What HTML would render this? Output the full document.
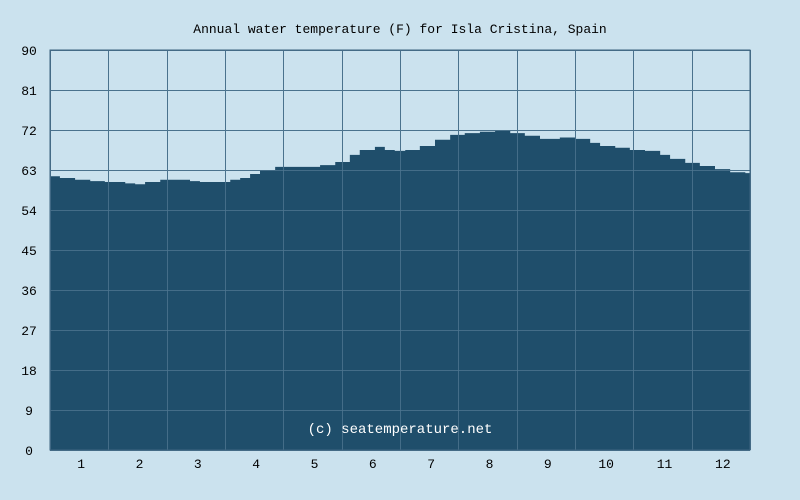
<!DOCTYPE html>
<html><head><meta charset="utf-8"><style>
body{margin:0;background:#cbe2ee;}
svg{display:block;font-family:"Liberation Mono","DejaVu Sans Mono",monospace;}
</style></head><body>
<svg id="chart" width="800" height="500">
<rect width="800" height="500" fill="#cbe2ee"/>
<text x="400" y="33" text-anchor="middle" font-size="13" fill="#000">Annual water temperature (F) for Isla Cristina, Spain</text>
<g id="grid-top"></g>
<path id="area" fill="#1f4e6b"/>
<g id="grid-in"></g>
<rect x="50" y="50" width="700" height="400" fill="none" stroke="#3d6480" stroke-width="1"/>
<g id="yticks"></g>
<g id="xticks"></g>
<text x="400" y="433" text-anchor="middle" font-size="14" fill="#fff">(c) seatemperature.net</text>
</svg>
<script>
const months = ["1","2","3","4","5","6","7","8","9","10","11","12"];
const yTicks = [0,9,18,27,36,45,54,63,72,81,90];
const monthPos = [0,0.17,0.43,0.69,0.94,1.11,1.29,1.46,1.63,1.89,2.14,2.4,2.57,2.83,3.09,3.26,3.43,3.6,3.86,4.11,4.37,4.63,4.89,5.14,5.31,5.57,5.74,5.91,6.09,6.34,6.6,6.86,7.11,7.37,7.63,7.89,8.14,8.4,8.74,9,9.26,9.43,9.69,9.94,10.2,10.46,10.63,10.89,11.14,11.4,11.66,11.92,12];
const temps = [61.6,61.2,60.8,60.5,60.3,60.3,60,59.8,60.3,60.8,60.8,60.5,60.3,60.3,60.8,61.2,62.1,63,63.7,63.7,63.7,64.1,64.8,66.4,67.5,68.2,67.5,67.3,67.5,68.4,69.8,70.9,71.3,71.6,71.8,71.3,70.7,70,70.3,70,69.1,68.4,68,67.5,67.3,66.4,65.5,64.6,63.9,63.2,62.5,62.3,62.3];
const X0=50,X1=750,Y0=450,Y1=50;
const xs=m=>X0+m*(X1-X0)/12;
const ys=v=>Y0-v*(Y0-Y1)/90;
const NS="http://www.w3.org/2000/svg";
function mk(t,a){const e=document.createElementNS(NS,t);for(const k in a)e.setAttribute(k,a[k]);return e;}
let d="M"+xs(0)+","+Y0;
for(let i=0;i<monthPos.length-1;i++){d+=" L"+xs(monthPos[i])+","+ys(temps[i])+" L"+xs(monthPos[i+1])+","+ys(temps[i]);}
d+=" L"+xs(12)+","+ys(temps[temps.length-1])+" L"+xs(12)+","+Y0+" Z";
document.getElementById('area').setAttribute('d',d);
const gt=document.getElementById('grid-top'),gi=document.getElementById('grid-in'),yt=document.getElementById('yticks'),xt=document.getElementById('xticks');
yTicks.forEach(v=>{
 const y=ys(v)+0.5;
 const l1=mk('line',{x1:X0,x2:X1,y1:y,y2:y,stroke:'#3d6480'});
 
 
 gt.appendChild(l1);
 const l2=mk('line',{x1:X0,x2:X1,y1:y,y2:y,stroke:'#4d7590','stroke-opacity':'0.8'});
 
 
 gi.appendChild(l2);
 const t=mk('text',{x:29,y:ys(v)+5,'text-anchor':'middle','font-size':'13',fill:'#000'});
 t.textContent=v;
 
 
 yt.appendChild(t);
});
for(let m=0;m<=12;m++){
 const x=Math.round(xs(m))+0.5;
 const l1=mk('line',{x1:x,x2:x,y1:Y1,y2:Y0,stroke:'#3d6480'});
 
 
 gt.appendChild(l1);
 const l2=mk('line',{x1:x,x2:x,y1:Y1,y2:Y0,stroke:'#4d7590','stroke-opacity':'0.8'});
 
 
 gi.appendChild(l2);
}
months.forEach((mo,i)=>{
 const t=mk('text',{x:xs(i+0.5)+2,y:468,'text-anchor':'middle','font-size':'13',fill:'#000'});
 t.textContent=mo;
 
 
 xt.appendChild(t);
});
</script>
</body></html>
